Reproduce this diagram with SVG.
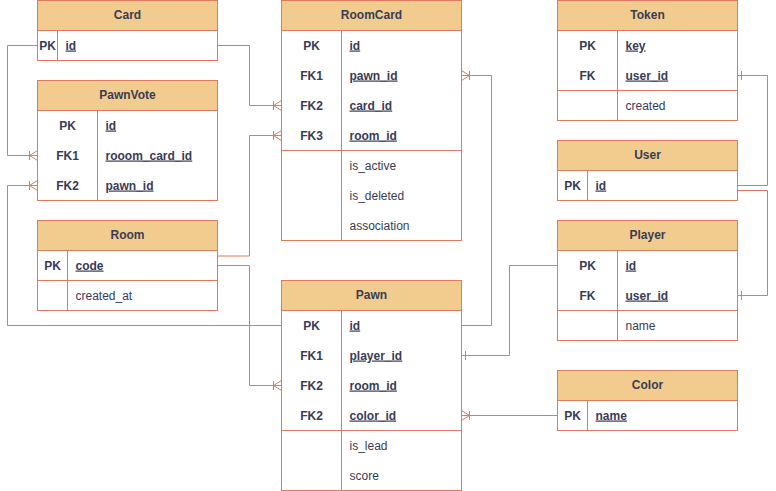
<svg xmlns="http://www.w3.org/2000/svg" width="776" height="491" viewBox="0 0 776 491">
<defs>
<style>
.box{fill:#ffffff;stroke:#E07A5F;stroke-width:1}
.hd{fill:#F2CC8F;stroke:#E07A5F;stroke-width:1}
.ln{stroke:#E07A5F;stroke-width:1;fill:none}
text{font-family:"Liberation Sans",Arial,sans-serif;font-size:12px;fill:#393C56}
.t{font-weight:bold;text-anchor:middle}
.k{font-weight:bold;text-anchor:middle}
.n{font-weight:bold;text-decoration:underline}
.c{stroke:#E07A5F;stroke-width:1;fill:none}
</style>
<marker id="many" markerUnits="userSpaceOnUse" viewBox="-12 -8 14 16" markerWidth="14" markerHeight="16" refX="0" refY="0" orient="auto" overflow="visible">
<path d="M-8,0 L0,-5 M-8,0 L0,5 M-8,-4.5 L-8,4.5" stroke="#E07A5F" stroke-width="1" fill="none"/>
</marker>
<marker id="one" markerUnits="userSpaceOnUse" viewBox="-12 -8 14 16" markerWidth="14" markerHeight="16" refX="0" refY="0" orient="auto" overflow="visible">
<path d="M-4,-4.5 L-4,4.5" stroke="#E07A5F" stroke-width="1" fill="none"/>
</marker>
</defs>
<rect width="776" height="491" fill="#ffffff"/>

<g id="connectors">
<path class="c" d="M217.5,45.5 H249.5 V105.5 H281.5" marker-end="url(#many)"/>
<path class="c" d="M37.5,45.5 H7.5 V155.5 H37.5" marker-end="url(#many)"/>
<path class="c" d="M281.5,325.5 H7.5 V185.5 H37.5" marker-end="url(#many)"/>
<path class="c" d="M217.5,256 H249.5 V135.5 H281.5" marker-end="url(#many)"/>
<path class="c" d="M217.5,265.5 H249.5 V385.5 H281.5" marker-end="url(#many)"/>
<path class="c" d="M461.5,325.5 H491.5 V75.5 H461.5" marker-end="url(#many)"/>
<path class="c" d="M557.5,265.5 H509.5 V355.5 H461.5" marker-end="url(#one)"/>
<path class="c" d="M737.5,185.5 H767.5 V75.5 H737.5" marker-end="url(#one)"/>
<path class="c" d="M737.5,190.5 H767.5 V295.5 H737.5" marker-end="url(#one)"/>
<path class="c" d="M557.5,415.5 H461.5" marker-end="url(#many)"/>
</g>

<g id="Card">
<rect class="box" x="37.5" y="0.5" width="180" height="60"/>
<rect class="hd" x="37.5" y="0.5" width="180" height="30"/>
<line class="ln" x1="57.5" y1="30.5" x2="57.5" y2="60.5"/>
<text class="t" x="127.5" y="18.5">Card</text>
<text class="k" x="47.5" y="49.5">PK</text>
<text class="n" x="65.5" y="49.5">id</text>
</g>

<g id="PawnVote">
<rect class="box" x="37.5" y="80.5" width="180" height="120"/>
<rect class="hd" x="37.5" y="80.5" width="180" height="30"/>
<line class="ln" x1="97.5" y1="110.5" x2="97.5" y2="200.5"/>
<text class="t" x="127.5" y="98.5">PawnVote</text>
<text class="k" x="67.5" y="129.5">PK</text>
<text class="n" x="105.5" y="129.5">id</text>
<text class="k" x="67.5" y="159.5">FK1</text>
<text class="n" x="105.5" y="159.5">rooom_card_id</text>
<text class="k" x="67.5" y="189.5">FK2</text>
<text class="n" x="105.5" y="189.5">pawn_id</text>
</g>

<g id="Room">
<rect class="box" x="37.5" y="220.5" width="180" height="90"/>
<rect class="hd" x="37.5" y="220.5" width="180" height="30"/>
<line class="ln" x1="67.5" y1="250.5" x2="67.5" y2="310.5"/>
<line class="ln" x1="37.5" y1="280.5" x2="217.5" y2="280.5"/>
<text class="t" x="127.5" y="238.5">Room</text>
<text class="k" x="52.5" y="269.5">PK</text>
<text class="n" x="75.5" y="269.5">code</text>
<text x="75.5" y="299.5">created_at</text>
</g>

<g id="RoomCard">
<rect class="box" x="281.5" y="0.5" width="180" height="240"/>
<rect class="hd" x="281.5" y="0.5" width="180" height="30"/>
<line class="ln" x1="341.5" y1="30.5" x2="341.5" y2="240.5"/>
<line class="ln" x1="281.5" y1="150.5" x2="461.5" y2="150.5"/>
<text class="t" x="371.5" y="18.5">RoomCard</text>
<text class="k" x="311.5" y="49.5">PK</text>
<text class="n" x="349.5" y="49.5">id</text>
<text class="k" x="311.5" y="79.5">FK1</text>
<text class="n" x="349.5" y="79.5">pawn_id</text>
<text class="k" x="311.5" y="109.5">FK2</text>
<text class="n" x="349.5" y="109.5">card_id</text>
<text class="k" x="311.5" y="139.5">FK3</text>
<text class="n" x="349.5" y="139.5">room_id</text>
<text x="349.5" y="169.5">is_active</text>
<text x="349.5" y="199.5">is_deleted</text>
<text x="349.5" y="229.5">association</text>
</g>

<g id="Pawn">
<rect class="box" x="281.5" y="280.5" width="180" height="210"/>
<rect class="hd" x="281.5" y="280.5" width="180" height="30"/>
<line class="ln" x1="341.5" y1="310.5" x2="341.5" y2="490.5"/>
<line class="ln" x1="281.5" y1="430.5" x2="461.5" y2="430.5"/>
<text class="t" x="371.5" y="298.5">Pawn</text>
<text class="k" x="311.5" y="329.5">PK</text>
<text class="n" x="349.5" y="329.5">id</text>
<text class="k" x="311.5" y="359.5">FK1</text>
<text class="n" x="349.5" y="359.5">player_id</text>
<text class="k" x="311.5" y="389.5">FK2</text>
<text class="n" x="349.5" y="389.5">room_id</text>
<text class="k" x="311.5" y="419.5">FK2</text>
<text class="n" x="349.5" y="419.5">color_id</text>
<text x="349.5" y="449.5">is_lead</text>
<text x="349.5" y="479.5">score</text>
</g>

<g id="Token">
<rect class="box" x="557.5" y="0.5" width="180" height="120"/>
<rect class="hd" x="557.5" y="0.5" width="180" height="30"/>
<line class="ln" x1="617.5" y1="30.5" x2="617.5" y2="120.5"/>
<line class="ln" x1="557.5" y1="90.5" x2="737.5" y2="90.5"/>
<text class="t" x="647.5" y="18.5">Token</text>
<text class="k" x="587.5" y="49.5">PK</text>
<text class="n" x="625.5" y="49.5">key</text>
<text class="k" x="587.5" y="79.5">FK</text>
<text class="n" x="625.5" y="79.5">user_id</text>
<text x="625.5" y="109.5">created</text>
</g>

<g id="User">
<rect class="box" x="557.5" y="140.5" width="180" height="60"/>
<rect class="hd" x="557.5" y="140.5" width="180" height="30"/>
<line class="ln" x1="587.5" y1="170.5" x2="587.5" y2="200.5"/>
<text class="t" x="647.5" y="158.5">User</text>
<text class="k" x="572.5" y="189.5">PK</text>
<text class="n" x="595.5" y="189.5">id</text>
</g>

<g id="Player">
<rect class="box" x="557.5" y="220.5" width="180" height="120"/>
<rect class="hd" x="557.5" y="220.5" width="180" height="30"/>
<line class="ln" x1="617.5" y1="250.5" x2="617.5" y2="340.5"/>
<line class="ln" x1="557.5" y1="310.5" x2="737.5" y2="310.5"/>
<text class="t" x="647.5" y="238.5">Player</text>
<text class="k" x="587.5" y="269.5">PK</text>
<text class="n" x="625.5" y="269.5">id</text>
<text class="k" x="587.5" y="299.5">FK</text>
<text class="n" x="625.5" y="299.5">user_id</text>
<text x="625.5" y="329.5">name</text>
</g>

<g id="Color">
<rect class="box" x="557.5" y="370.5" width="180" height="60"/>
<rect class="hd" x="557.5" y="370.5" width="180" height="30"/>
<line class="ln" x1="587.5" y1="400.5" x2="587.5" y2="430.5"/>
<text class="t" x="647.5" y="388.5">Color</text>
<text class="k" x="572.5" y="419.5">PK</text>
<text class="n" x="595.5" y="419.5">name</text>
</g>
</svg>
